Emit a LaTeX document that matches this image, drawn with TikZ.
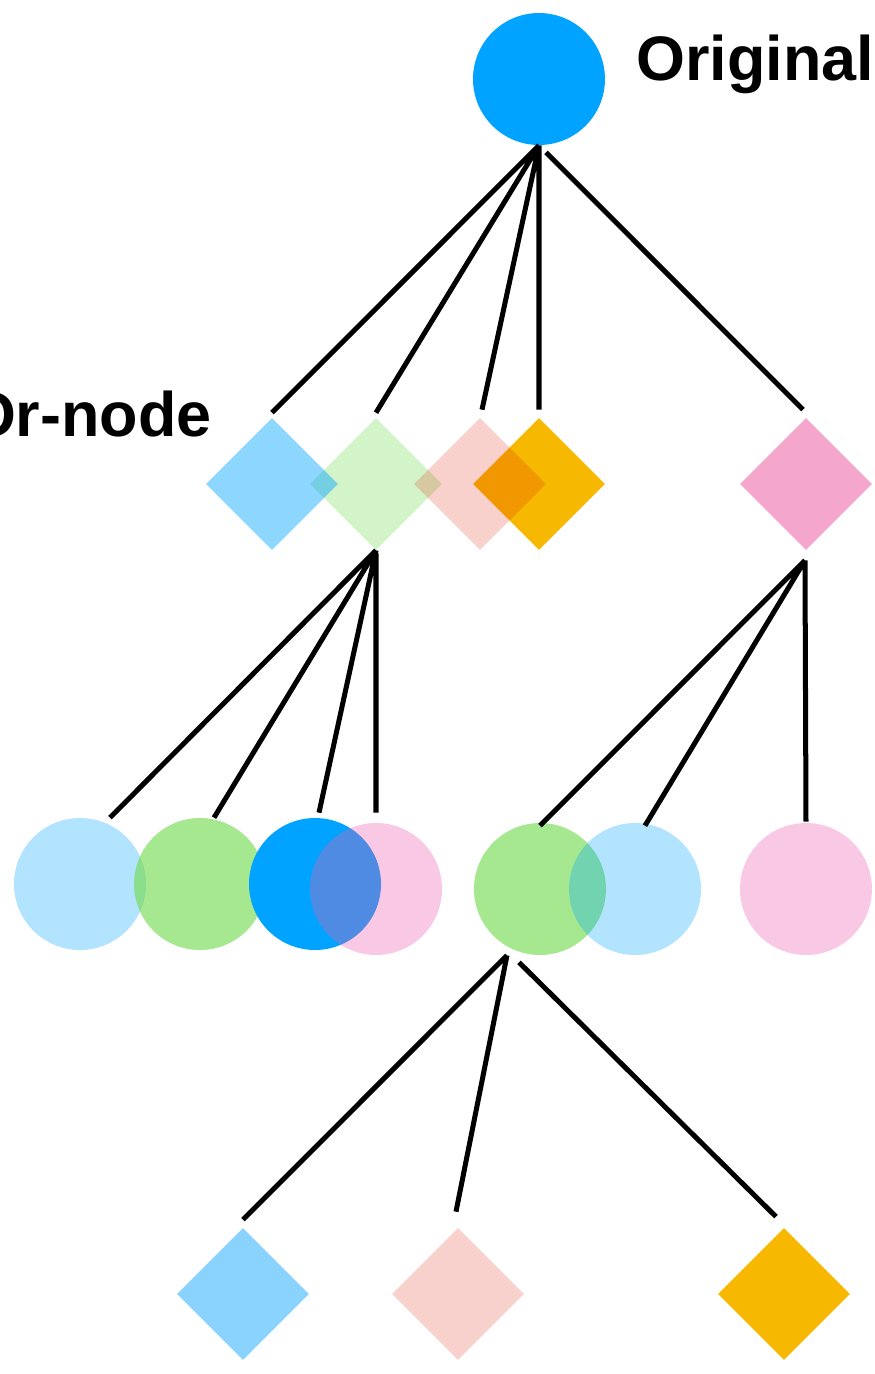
\documentclass[tikz,border=0pt]{standalone}
\usepackage{fontspec}
\setmainfont{Liberation Sans}
\usetikzlibrary{shapes.geometric}
\definecolor{xanh}{HTML}{00A3FF}
\definecolor{xanhnhat}{HTML}{8BD3FF}
\definecolor{la}{HTML}{7ADD5A}
\definecolor{do}{HTML}{E11900}
\definecolor{hong}{HTML}{ED5DAF}
\definecolor{hongdam}{HTML}{F4A6CC}
\definecolor{cam}{HTML}{F6B800}
\definecolor{hongnhat}{HTML}{F9D1CC}
\begin{document}
\begin{tikzpicture}[x=0.02cm,y=-0.02cm,font=\bfseries\fontsize{35.8}{40}\selectfont]
	%%%%%%%%%STYLES
	\tikzset{
		tron/.style={circle,minimum size=2.64cm,inner sep=0pt,draw=none},
		thoi/.style={diamond,minimum width=2.64cm,minimum height=2.64cm,inner sep=0pt,draw=none},
		link/.style={line width=2.85pt,black}
	}
	\useasboundingbox(0,0)rectangle(875,1374);
	\clip(0,0)rectangle(875,1374);
	%%%%%%%%%GOC
	\node[tron,fill=xanh](orig) at (539,79){};
	\node[anchor=base west,inner sep=0pt](lbOrig) at (636,80){Original};
	%%%%%%%%%TANG 1
	\node[thoi,fill=la,fill opacity=0.33](d2) at (376,484){};
	\node[thoi,fill=xanh,fill opacity=0.45](d1) at (272,484){};
	\node[thoi,fill=cam](d4) at (539,484){};
	\node[thoi,fill=do,fill opacity=0.2](d3) at (480,484){};
	\node[thoi,fill=hongdam](d5) at (806,484){};
	\node[anchor=base east,inner sep=0pt](lbOr) at (212,436){Or-node};
	%%%%%%%%%TANG 2
	\node[tron,fill=xanh,fill opacity=0.3](c1) at (80,884){};
	\node[tron,fill=la,fill opacity=0.68](c2) at (200,884){};
	\node[tron,fill=xanh](c3) at (315,884){};
	\node[tron,fill=hong,fill opacity=0.34](c4) at (376,889){};
	\node[tron,fill=la,fill opacity=0.68](c5) at (540,889){};
	\node[tron,fill=xanh,fill opacity=0.3](c6) at (635,889){};
	\node[tron,fill=hong,fill opacity=0.34](c7) at (806,889){};
	%%%%%%%%%TANG 3
	\node[thoi,fill=xanhnhat](e1) at (243,1294){};
	\node[thoi,fill=hongnhat](e2) at (458,1294){};
	\node[thoi,fill=cam](e3) at (784,1294){};
	%%%%%%%%%DUONG NOI
	\draw[link](orig.south)--([yshift=0.1cm]d1.north)
	(orig.south)--([yshift=0.1cm]d2.north)
	(orig.south)--([shift={(0.04cm,0.16cm)}]d3.north)
	(orig.south)--([yshift=0.16cm]d4.north);
	\draw[link,shorten <=0.2cm](orig.south)--([shift={(-0.06cm,0.16cm)}]d5.north);
	\draw[link,shorten <=0.06cm](d2.south)--([xshift=0.6cm]c1.north)
	(d2.south)--([xshift=0.28cm]c2.north)
	(d2.south)--([shift={(0.08cm,0.1cm)}]c3.north)
	(d2.south)--([yshift=0.2cm]c4.north);
	\draw[link]([shift={(-0.02cm,-0.2cm)}]d5.south)--([yshift=-0.06cm]c5.north)
	([shift={(-0.02cm,-0.2cm)}]d5.south)--([shift={(0.2cm,-0.06cm)}]c6.north)
	([shift={(-0.02cm,-0.2cm)}]d5.south)--([yshift=0.02cm]c7.north);
	\draw[link]([xshift=-0.66cm]c5.south)--([yshift=0.16cm]e1.north)
	([xshift=-0.66cm]c5.south)--([shift={(-0.04cm,0.32cm)}]e2.north)
	([shift={(-0.42cm,-0.14cm)}]c5.south)--([shift={(-0.16cm,0.22cm)}]e3.north);
\end{tikzpicture}
\end{document}
